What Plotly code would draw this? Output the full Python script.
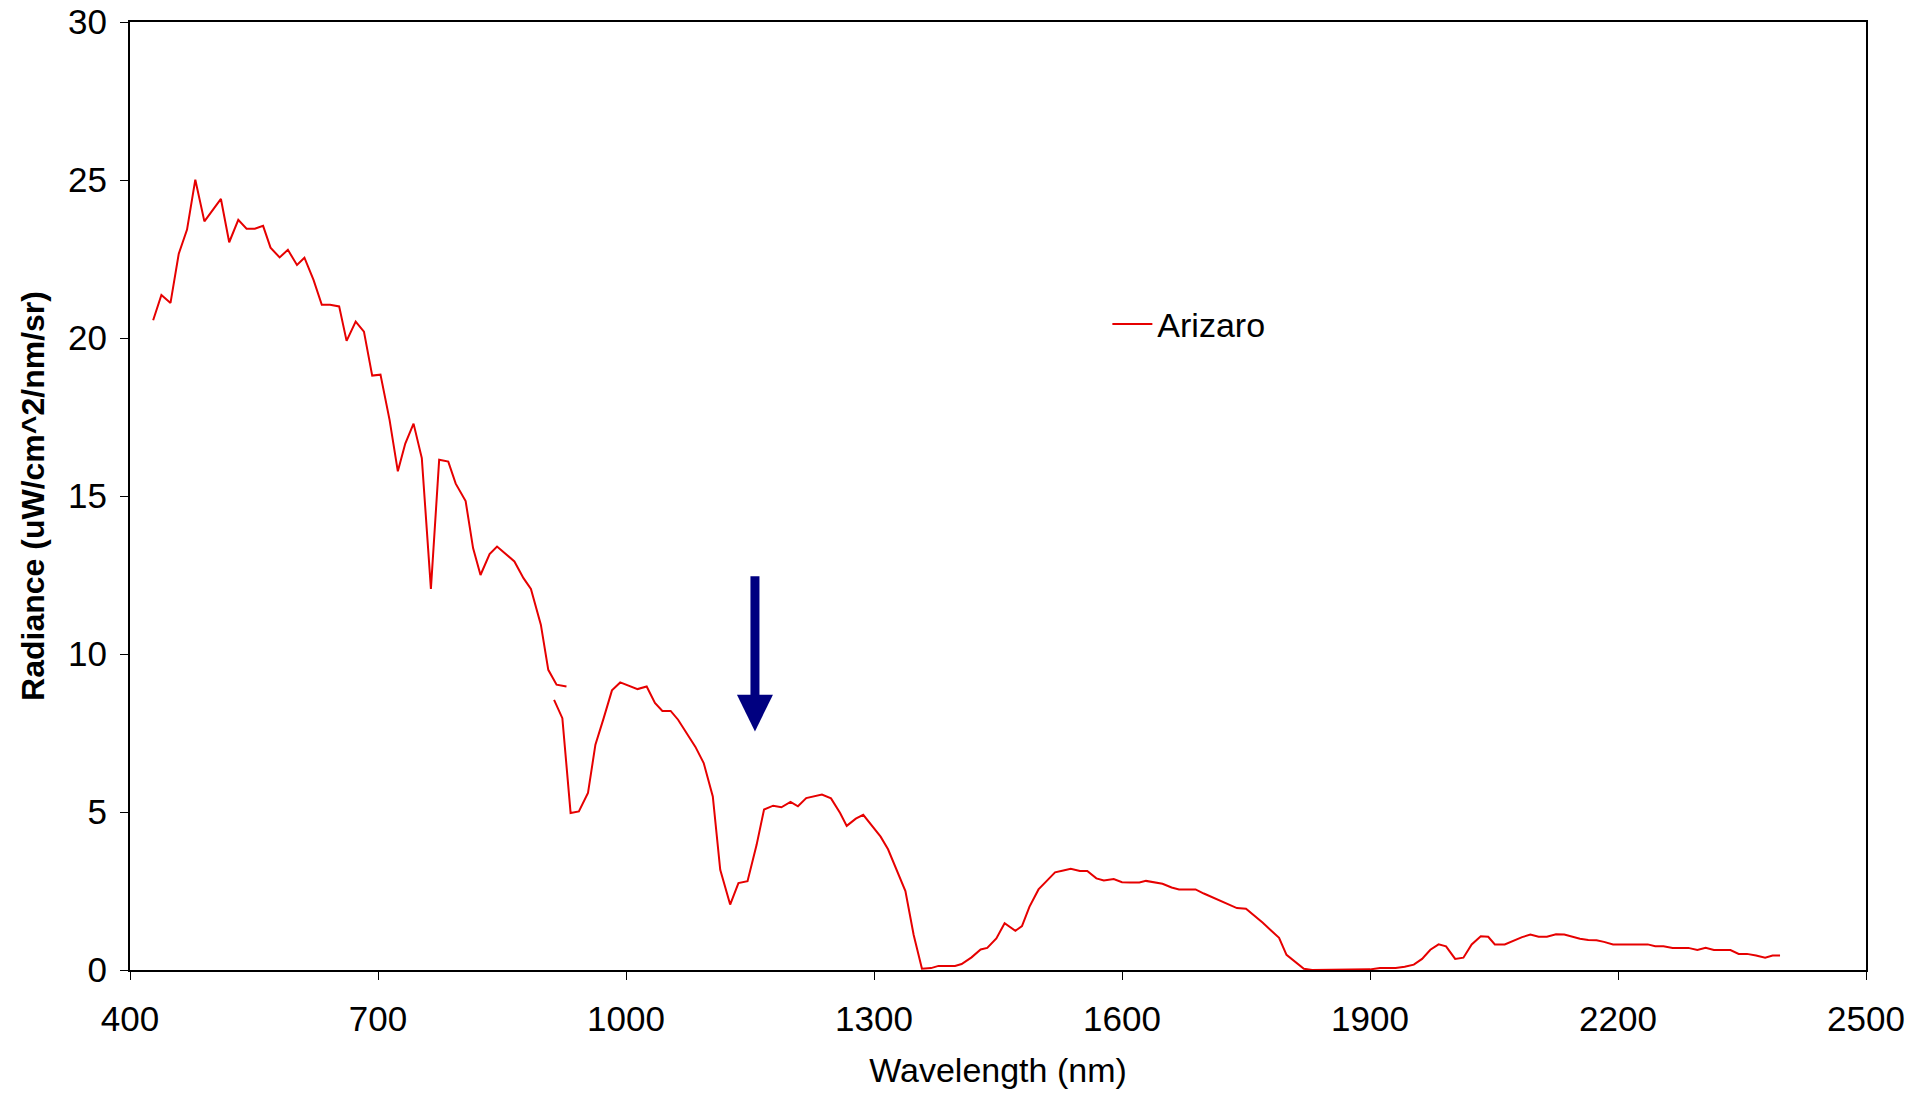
import plotly.graph_objects as go

# ---- data ----
# VNIR segment
wl_vnir = [428, 438, 449, 459, 469, 479, 490, 500, 510, 520, 531, 541, 551, 561, 570,
           581, 591, 602, 611, 622, 632, 642, 653, 662, 673, 683, 693, 703, 714, 724,
           733, 743, 753, 764, 774, 785, 794, 806, 815, 824, 835, 844, 855, 865, 876,
           885, 897, 906, 916, 928]
rad_vnir = [20.56, 21.36, 21.11, 22.67, 23.43, 25.01, 23.69, 24.05, 24.40, 23.03, 23.74,
            23.46, 23.46, 23.55, 22.86, 22.55, 22.79, 22.31, 22.54, 21.84, 21.05, 21.05,
            21.00, 19.91, 20.52, 20.20, 18.81, 18.84, 17.41, 15.78, 16.66, 17.29, 16.20,
            12.06, 16.15, 16.09, 15.39, 14.84, 13.35, 12.50, 13.16, 13.40, 13.16, 12.93,
            12.40, 12.06, 10.93, 9.50, 9.03, 8.97]

# SWIR segment
wl_swir = [913, 923, 933, 943, 954, 963, 973, 983, 993, 1004, 1014, 1025, 1035, 1044,
           1054, 1063, 1074, 1084, 1094, 1105, 1114, 1126, 1136, 1147, 1158, 1167, 1178,
           1188, 1199, 1208, 1218, 1228, 1237, 1248, 1259, 1267, 1278, 1287, 1299, 1308,
           1317, 1327, 1338, 1348, 1358, 1369, 1378, 1389, 1398, 1406, 1418, 1429, 1437,
           1448, 1458, 1471, 1479, 1488, 1499, 1509, 1519, 1529, 1538, 1549, 1558, 1569,
           1578, 1590, 1600, 1610, 1621, 1629, 1640, 1649, 1660, 1669, 1679, 1689, 1699,
           1709, 1719, 1729, 1739, 1750, 1760, 1770, 1780, 1790, 1799, 1809, 1820, 1830,
           1840, 1850, 1860, 1870, 1880, 1890, 1900, 1912, 1922, 1931, 1942, 1953, 1963,
           1973, 1983, 1992, 2003, 2013, 2023, 2034, 2043, 2051, 2063, 2074, 2084, 2094,
           2104, 2114, 2125, 2135, 2144, 2154, 2164, 2174, 2183, 2194, 2205, 2216, 2226,
           2236, 2245, 2255, 2266, 2276, 2285, 2296, 2306, 2316, 2326, 2336, 2346, 2356,
           2367, 2378, 2387, 2396]
rad_swir = [8.55, 7.97, 4.97, 5.02, 5.60, 7.13, 7.97, 8.85, 9.10, 9.00, 8.89, 8.97, 8.45,
            8.20, 8.20, 7.92, 7.47, 7.06, 6.55, 5.49, 3.17, 2.07, 2.75, 2.81, 3.96, 5.08,
            5.20, 5.15, 5.32, 5.18, 5.44, 5.49, 5.55, 5.43, 4.97, 4.56, 4.79, 4.91, 4.53,
            4.22, 3.82, 3.18, 2.50, 1.11, 0.04, 0.06, 0.13, 0.13, 0.13, 0.19, 0.40, 0.65,
            0.70, 1.00, 1.48, 1.24, 1.39, 2.00, 2.55, 2.82, 3.09, 3.15, 3.20, 3.13, 3.13,
            2.90, 2.83, 2.88, 2.78, 2.77, 2.77, 2.82, 2.77, 2.73, 2.61, 2.55, 2.55, 2.55,
            2.42, 2.30, 2.19, 2.08, 1.96, 1.94, 1.73, 1.50, 1.26, 1.02, 0.48, 0.27, 0.04,
            0.0, 0.0, 0.0, 0.0, 0.0, 0.0, 0.0, 0.02, 0.06, 0.06, 0.06, 0.10, 0.17, 0.35,
            0.64, 0.81, 0.75, 0.35, 0.39, 0.81, 1.07, 1.05, 0.81, 0.81, 0.94, 1.04, 1.12,
            1.05, 1.05, 1.13, 1.12, 1.05, 0.99, 0.95, 0.94, 0.89, 0.81, 0.81, 0.81, 0.81,
            0.81, 0.75, 0.75, 0.70, 0.70, 0.70, 0.63, 0.70, 0.63, 0.63, 0.63, 0.51, 0.51,
            0.46, 0.39, 0.46, 0.46]

series_name = "Arizaro"
x_ticks = [400, 700, 1000, 1300, 1600, 1900, 2200, 2500]
y_ticks = [0, 5, 10, 15, 20, 25, 30]

# arrow marker (wavelength, tip, head base, shaft top)
arrow_wl = 1156
arrow_tip = 7.55
arrow_head_base = 8.71
arrow_top = 12.46

FONT = "Liberation Sans, Arial, sans-serif"
RED = "#e60000"
NAVY = "#000080"

fig = go.Figure()
fig.add_trace(go.Scatter(
    x=wl_vnir + [None] + wl_swir,
    y=rad_vnir + [None] + rad_swir,
    mode="lines",
    name=series_name,
    line=dict(color=RED, width=2),
    connectgaps=False,
))

# arrow: shaft + head, anchored in data coordinates, sized in pixels horizontally
fig.add_shape(type="rect", xref="x", yref="y", xsizemode="pixel", xanchor=arrow_wl,
              x0=-4.5, x1=4.5, y0=arrow_head_base - 0.1, y1=arrow_top,
              fillcolor=NAVY, line=dict(width=0))
fig.add_shape(type="path", xref="x", yref="y", xsizemode="pixel", xanchor=arrow_wl,
              path=f"M -18,{arrow_head_base} L 18,{arrow_head_base} L 0,{arrow_tip} Z",
              fillcolor=NAVY, line=dict(width=0))

fig.update_layout(
    width=1926, height=1095,
    margin=dict(l=130, r=60, t=22, b=125),
    paper_bgcolor="white", plot_bgcolor="white",
    font=dict(family=FONT, size=34, color="black"),
    showlegend=True,
    legend=dict(x=0.563, y=0.681, xanchor="left", yanchor="middle", itemwidth=40,
                bgcolor="rgba(0,0,0,0)", font=dict(size=34)),
    xaxis=dict(
        range=[400, 2500], tickvals=x_ticks, ticks="outside", ticklen=8, tickwidth=1,
        tickcolor="black", showgrid=False, zeroline=False, showline=True,
        linecolor="black", linewidth=2, mirror=True, automargin=False,
        tickfont=dict(size=35), ticklabelstandoff=9,
        title=dict(text="Wavelength (nm)", font=dict(size=34), standoff=21),
    ),
    yaxis=dict(
        range=[0, 30], tickvals=y_ticks, ticks="outside", ticklen=8, tickwidth=1,
        tickcolor="black", showgrid=False, zeroline=False, showline=True,
        linecolor="black", linewidth=2, mirror=True, automargin=False,
        tickfont=dict(size=35), ticklabelstandoff=6,
        title=dict(text="<b>Radiance (uW/cm^2/nm/sr)</b>", font=dict(size=32), standoff=14),
    ),
)

fig.write_html("out.html")
